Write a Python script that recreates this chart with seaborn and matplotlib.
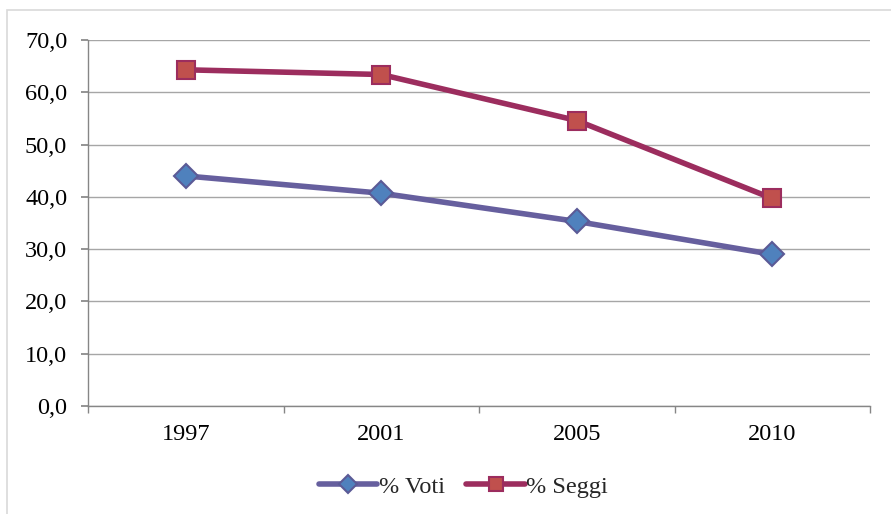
import matplotlib
matplotlib.use('Agg')
import numpy as np
import pandas as pd
import matplotlib.pyplot as plt
import seaborn as sns
from matplotlib.patches import Rectangle
from matplotlib.ticker import FuncFormatter

sns.set_theme(style="white")
plt.rcParams['font.family'] = ['Liberation Serif', 'DejaVu Serif']

# data
years = ['1997', '2001', '2005', '2010']
voti = [44.0, 40.7, 35.3, 29.0]
seggi = [64.3, 63.4, 54.6, 39.7]
series_names = ['% Voti', '% Seggi']

df = pd.DataFrame({
    'anno': years * 2,
    'pos': list(range(len(years))) * 2,
    'valore': voti + seggi,
    'serie': [series_names[0]] * len(years) + [series_names[1]] * len(years),
})

fig = plt.figure(figsize=(8.91, 5.14), dpi=100)
ax = fig.add_axes([88 / 891, 1 - 406 / 514, (870 - 88) / 891, (406 - 40) / 514])

# outer chart frame
fig.patches.append(Rectangle((7 / 891, -0.1), 2, 1.1 - 10 / 514, transform=fig.transFigure,
                             fill=False, edgecolor='#d9d9d9', linewidth=1.2))

styles = {
    '% Voti': dict(color='#665f9e', marker='D', mfc='#4f81bd', mec='#5b5a96', ms=12),
    '% Seggi': dict(color='#9c2d5e', marker='s', mfc='#c0504d', mec='#9c2d5e', ms=13),
}
for name in series_names:
    st = styles[name]
    sub = df[df['serie'] == name]
    sns.lineplot(data=sub, x='pos', y='valore', ax=ax, color=st['color'], linewidth=4,
                 marker=st['marker'], markersize=st['ms'], markerfacecolor=st['mfc'],
                 markeredgecolor=st['mec'], markeredgewidth=1.5, label=name)

ax.set_xlim(-0.5, len(years) - 0.5)
ax.set_ylim(0, 70)
ax.set_yticks(np.arange(0, 71, 10))
ax.yaxis.set_major_formatter(FuncFormatter(lambda v, p: f"{v:.1f}".replace('.', ',')))
ax.set_xticks(range(len(years)))
ax.set_xticklabels(years)
ax.set_xticks(np.arange(-0.5, len(years), 1), minor=True)
ax.tick_params(axis='x', which='major', length=0, pad=13, labelsize=17.5, colors='black')
ax.tick_params(axis='x', which='minor', length=5, color='#868686', direction='out', bottom=True)
ax.tick_params(axis='y', length=5, color='#868686', direction='out', left=True, pad=10,
               labelsize=17.5, colors='black')
ax.set_xlabel('')
ax.set_ylabel('')
ax.grid(axis='y', color='#a6a6a6', linewidth=1)
ax.set_axisbelow(True)
for s in ['top', 'right']:
    ax.spines[s].set_visible(False)
for s in ['left', 'bottom']:
    ax.spines[s].set_color('#868686')
    ax.spines[s].set_linewidth(1)

ax.legend(loc='center', bbox_to_anchor=(0.52, 1 - 487 / 514), bbox_transform=fig.transFigure,
          ncol=2, frameon=False, fontsize=17.5, handlelength=2.4, columnspacing=0.9,
          handletextpad=0.05, markerscale=0.75)

fig.savefig('out.png', dpi=100)
